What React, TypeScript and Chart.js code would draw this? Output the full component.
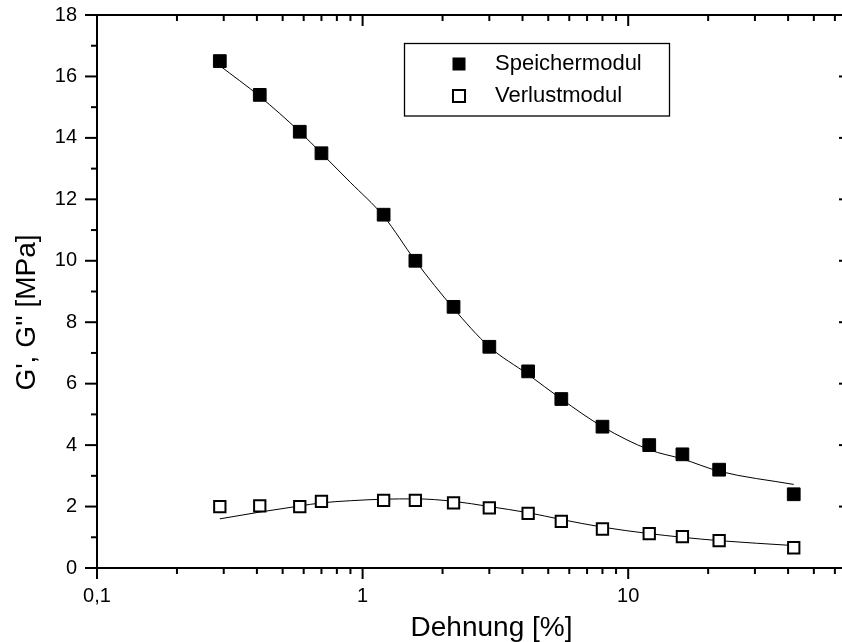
import React, { useEffect, useRef } from "react";
import { Chart, registerables } from "chart.js";

Chart.register(...registerables);

// ---- data ----
const strainValues = [0.29, 0.41, 0.58, 0.7, 1.2, 1.58, 2.2, 3.0, 4.2, 5.6, 8.0, 12, 16, 22, 42];
const speichermodul = [16.5, 15.4, 14.2, 13.5, 11.5, 10.0, 8.5, 7.2, 6.4, 5.5, 4.6, 4.0, 3.7, 3.2, 2.4];
const verlustmodul = [2.0, 2.02, 2.0, 2.17, 2.2, 2.2, 2.12, 1.96, 1.78, 1.52, 1.27, 1.12, 1.02, 0.89, 0.66];

const fitStrain = [0.29, 0.41, 0.58, 0.7, 0.9, 1.2, 1.58, 2.2, 3.0, 4.2, 5.6, 8.0, 12, 16, 22, 42];
const speicherFit = [16.35, 15.35, 14.2, 13.5, 12.55, 11.45, 10.0, 8.45, 7.2, 6.3, 5.5, 4.6, 3.85, 3.55, 3.15, 2.72];
const verlustFit = [1.6, 1.82, 2.02, 2.12, 2.19, 2.24, 2.25, 2.17, 2.0, 1.8, 1.58, 1.33, 1.12, 1.0, 0.89, 0.73];

const seriesNames = ["Speichermodul", "Verlustmodul"];
const xMajorTicks = [0.1, 1, 10];
const xMajorLabels = ["0,1", "1", "10"];
const xMinorMultipliers = [2, 3, 4, 5, 6, 7, 8, 9];
const xTitle = "Dehnung [%]";
const yTitle = "G', G'' [MPa]";
const yMin = 0;
const yMax = 18;
const yStep = 2;
const xMin = 0.1;
const xMax = 69;

const FONT = '"Liberation Sans", Arial, Helvetica, sans-serif';

const toPoints = (xs: number[], ys: number[]) => xs.map((x, i) => ({ x, y: ys[i] }));

const axisPlugin = {
  id: "originFrame",
  afterDraw(chart: any) {
    const { ctx, chartArea: ca, scales } = chart;
    const xs = scales.x;
    const ys = scales.y;
    ctx.save();
    ctx.strokeStyle = "#000";
    ctx.fillStyle = "#000";
    ctx.lineWidth = 2;
    ctx.strokeRect(ca.left, ca.top, ca.right - ca.left, ca.bottom - ca.top);

    const line = (x1: number, y1: number, x2: number, y2: number) => {
      ctx.beginPath();
      ctx.moveTo(x1, y1);
      ctx.lineTo(x2, y2);
      ctx.stroke();
    };

    // y ticks (major every 2, minor every 1)
    for (let v = yMin; v <= yMax; v += yStep / 2) {
      const py = ys.getPixelForValue(v);
      const major = Math.abs(v % yStep) < 1e-9;
      const len = major ? 12 : 6;
      line(ca.left - len, py, ca.left, py);
      line(ca.right, py, ca.right - len, py);
    }

    // x ticks (log)
    const drawX = (v: number, major: boolean) => {
      if (v < xMin - 1e-9 || v > xMax + 1e-9) return;
      const px = xs.getPixelForValue(v);
      const len = major ? 11 : 6;
      line(px, ca.bottom, px, ca.bottom + len);
      line(px, ca.top, px, ca.top + len);
    };
    xMajorTicks.forEach((d) => {
      drawX(d, true);
      xMinorMultipliers.forEach((m) => drawX(d * m, false));
    });

    // axis titles
    ctx.font = `28px ${FONT}`;
    ctx.textAlign = "center";
    ctx.textBaseline = "alphabetic";
    ctx.fillText(xTitle, 491.5, 636);
    ctx.save();
    ctx.translate(35, 312.5);
    ctx.rotate(-Math.PI / 2);
    ctx.fillText(yTitle, 0, 0);
    ctx.restore();

    // legend
    ctx.lineWidth = 1.3;
    ctx.strokeRect(404.5, 43.5, 265, 72.5);
    ctx.fillRect(459 - 6.5, 64 - 6.5, 13, 13);
    ctx.lineWidth = 2;
    ctx.fillStyle = "#fff";
    ctx.fillRect(459 - 6, 96 - 6, 12, 12);
    ctx.strokeRect(459 - 6, 96 - 6, 12, 12);
    ctx.fillStyle = "#000";
    ctx.font = `22px ${FONT}`;
    ctx.textAlign = "left";
    ctx.textBaseline = "middle";
    ctx.fillText(seriesNames[0], 495, 64);
    ctx.fillText(seriesNames[1], 495, 96);
    ctx.restore();
  },
};

export default function App() {
  const ref = useRef<HTMLCanvasElement>(null);

  useEffect(() => {
    if (!ref.current) return;
    const chart = new Chart(ref.current, {
      type: "scatter",
      data: {
        datasets: [
          {
            label: seriesNames[0],
            data: toPoints(strainValues, speichermodul),
            pointStyle: "rect",
            pointRadius: 9,
            backgroundColor: "#000",
            borderColor: "#000",
            borderWidth: 1,
            showLine: false,
          },
          {
            label: seriesNames[1],
            data: toPoints(strainValues, verlustmodul),
            pointStyle: "rect",
            pointRadius: 8,
            backgroundColor: "#fff",
            borderColor: "#000",
            borderWidth: 2,
            showLine: false,
          },
          {
            label: "fit1",
            data: toPoints(fitStrain, speicherFit),
            showLine: true,
            pointRadius: 0,
            borderColor: "#000",
            borderWidth: 1,
            cubicInterpolationMode: "monotone",
          },
          {
            label: "fit2",
            data: toPoints(fitStrain, verlustFit),
            showLine: true,
            pointRadius: 0,
            borderColor: "#000",
            borderWidth: 1,
            cubicInterpolationMode: "monotone",
          },
        ],
      },
      options: {
        animation: false,
        responsive: false,
        devicePixelRatio: 1,
        layout: { padding: { top: 15, right: 19, left: 0, bottom: 0 } },
        plugins: { legend: { display: false }, tooltip: { enabled: false } },
        scales: {
          x: {
            type: "logarithmic",
            min: xMin,
            max: xMax,
            afterFit: (s: any) => {
              s.height = 74;
              s.paddingLeft = 0;
              s.paddingRight = 0;
            },
            grid: { display: false, drawTicks: false },
            border: { display: false },
            ticks: {
              autoSkip: false,
              maxRotation: 0,
              padding: 16,
              color: "#000",
              font: { family: FONT, size: 20 },
              callback: (value: any) => {
                const v = Number(value);
                const i = xMajorTicks.findIndex((t) => Math.abs(t - v) < 1e-9);
                return i >= 0 ? xMajorLabels[i] : "";
              },
            },
          },
          y: {
            type: "linear",
            min: yMin,
            max: yMax,
            afterFit: (s: any) => {
              s.width = 97;
              s.paddingTop = 0;
              s.paddingBottom = 0;
            },
            grid: { display: false, drawTicks: false },
            border: { display: false },
            ticks: {
              stepSize: yStep,
              padding: 20,
              color: "#000",
              font: { family: FONT, size: 20 },
            },
          },
        },
      },
      plugins: [axisPlugin],
    } as any);
    return () => chart.destroy();
  }, []);

  return (
    <div style={{ position: "fixed", left: 0, top: 0, width: 842, height: 642, overflow: "hidden", background: "#fff" }}>
      <canvas ref={ref} width={870} height={642} style={{ display: "block" }} />
    </div>
  );
}
